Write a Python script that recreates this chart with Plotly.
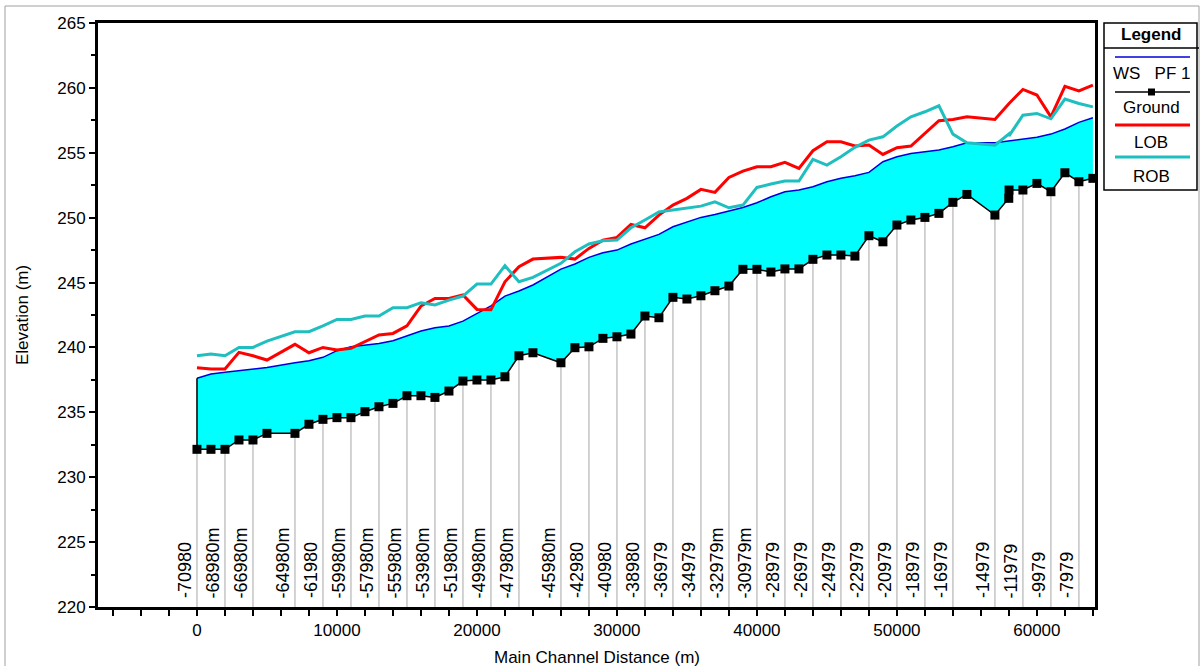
import plotly.graph_objects as go

# ---------------- data ----------------
dist = [0, 1000, 2000, 3000, 4000, 5000, 7000, 8000, 9000, 10000, 11000, 12000, 13000, 14000,
        15000, 16000, 17000, 18000, 19000, 20000, 21000, 22000, 23000, 24000, 26000, 27000, 28000,
        29000, 30000, 31000, 32000, 33000, 34000, 35000, 36000, 37000, 38000, 39000, 40000, 41000,
        42000, 43000, 44000, 45000, 46000, 47000, 48000, 49000, 50000, 51000, 52000, 53000, 54000,
        55000, 57000, 57990, 58010, 59000, 60000, 61000, 62000, 63000, 64000]

ground = [232.15, 232.15, 232.15, 232.87, 232.87, 233.38, 233.38, 234.08, 234.46, 234.59, 234.59,
          235.05, 235.43, 235.69, 236.28, 236.28, 236.15, 236.64, 237.41, 237.49, 237.49, 237.74,
          239.36, 239.59, 238.82, 239.98, 240.05, 240.70, 240.82, 241.03, 242.42, 242.29, 243.86,
          243.73, 243.98, 244.37, 244.73, 246.02, 246.02, 245.81, 246.05, 246.05, 246.79, 247.12,
          247.12, 247.04, 248.61, 248.14, 249.43, 249.82, 250.02, 250.33, 251.18, 251.79, 250.20,
          251.49, 252.13, 252.13, 252.64, 252.00, 253.46, 252.77, 253.03]

ws = [237.62, 237.95, 238.08, 238.20, 238.33, 238.46, 238.82, 238.98, 239.24, 239.75, 240.05,
      240.18, 240.31, 240.52, 240.88, 241.26, 241.52, 241.65, 242.03, 242.63, 243.20, 243.96,
      244.35, 244.81, 246.04, 246.43, 246.94, 247.30, 247.50, 247.97, 248.35, 248.71, 249.30,
      249.68, 250.02, 250.25, 250.51, 250.79, 251.15, 251.61, 252.00, 252.13, 252.38, 252.77,
      253.03, 253.23, 253.49, 254.31, 254.69, 254.95, 255.08, 255.21, 255.46, 255.77, 255.77,
      255.92, 255.92, 256.06, 256.19, 256.44, 256.83, 257.34, 257.70]

lob = [238.44, 238.34, 238.34, 239.62, 239.36, 239.03, 240.24, 239.59, 240.00, 239.80, 239.93,
       240.44, 240.96, 241.08, 241.67, 243.19, 243.78, 243.78, 244.04, 242.93, 242.90, 245.06,
       246.22, 246.81, 246.94, 246.81, 247.63, 248.27, 248.48, 249.48, 249.22, 250.20, 250.97,
       251.49, 252.18, 251.95, 253.10, 253.59, 253.92, 253.92, 254.26, 253.80, 255.16, 255.85,
       255.85, 255.52, 255.59, 254.87, 255.39, 255.52, 256.49, 257.47, 257.57, 257.77, 257.57,
       258.75, 258.80, 259.88, 259.45, 257.77, 260.12, 259.77, 260.21]

rob = [239.36, 239.49, 239.36, 240.00, 240.00, 240.49, 241.21, 241.21, 241.67, 242.16, 242.16,
       242.42, 242.42, 243.06, 243.06, 243.45, 243.27, 243.65, 243.96, 244.88, 244.88, 246.30,
       245.06, 245.40, 246.48, 247.37, 247.97, 248.22, 248.27, 249.22, 249.82, 250.45, 250.59,
       250.72, 250.89, 251.22, 250.76, 250.97, 252.33, 252.59, 252.82, 252.82, 254.49, 254.05,
       254.69, 255.42, 255.98, 256.23, 257.06, 257.77, 258.16, 258.62, 256.44, 255.77, 255.59,
       256.44, 256.30, 257.90, 258.03, 257.62, 259.14, 258.80, 258.54]

label_dist = [0, 2000, 4000, 7000, 9000, 11000, 13000, 15000, 17000, 19000, 21000, 23000, 26000,
              28000, 30000, 32000, 34000, 36000, 38000, 40000, 42000, 44000, 46000, 48000, 50000,
              52000, 54000, 57000, 59000, 61000, 63000]
label_text = ["-70980", "-68980m", "-66980m", "-64980m", "-61980", "-59980m", "-57980m",
              "-55980m", "-53980m", "-51980m", "-49980m", "-47980m", "-45980m", "-42980",
              "-40980", "-38980", "-36979", "-34979", "-32979m", "-30979m", "-28979", "-26979",
              "-24979", "-22979", "-20979", "-18979", "-16979", "-14979", "-11979", "-9979",
              "-7979"]

x_range = [-7070, 64150]
y_range = [220, 265]

FONT = "Arial, Liberation Sans, sans-serif"
FS = 17

fig = go.Figure()

# fill base (ground, invisible)
fig.add_trace(go.Scatter(x=dist, y=ground, mode="lines", line=dict(width=0, color="black"),
                         hoverinfo="skip", showlegend=False))
# water surface with fill down to ground
fig.add_trace(go.Scatter(x=dist, y=ws, mode="lines", fill="tonexty", fillcolor="#00ffff",
                         line=dict(color="#0000dd", width=1.5), name="WS PF 1", showlegend=False))

# gray station lines
gmap = dict(zip(dist, ground))
gx, gy = [], []
for d in label_dist:
    gx += [d, d, None]
    gy += [gmap[d], y_range[0], None]
fig.add_trace(go.Scatter(x=gx, y=gy, mode="lines", line=dict(color="#c4c4c4", width=1.5),
                         hoverinfo="skip", showlegend=False))

# left edge of water polygon
fig.add_trace(go.Scatter(x=[dist[0], dist[0]], y=[ground[0], ws[0]], mode="lines",
                         line=dict(color="black", width=1.5), hoverinfo="skip", showlegend=False))

fig.add_trace(go.Scatter(x=dist, y=lob, mode="lines", line=dict(color="#ff0000", width=3),
                         name="LOB", showlegend=False))
fig.add_trace(go.Scatter(x=dist, y=rob, mode="lines", line=dict(color="#1fbfbf", width=3),
                         name="ROB", showlegend=False))
fig.add_trace(go.Scatter(x=dist, y=ground, mode="lines+markers",
                         line=dict(color="black", width=1.5),
                         marker=dict(symbol="square", size=9, color="black"),
                         name="Ground", showlegend=False, cliponaxis=False))

# station labels
for d, t in zip(label_dist, label_text):
    fig.add_annotation(x=d, y=y_range[0], xref="x", yref="y", text=t, textangle=-90,
                       showarrow=False, xanchor="right", yanchor="bottom", xshift=0, yshift=7,
                       font=dict(family=FONT, size=18, color="black"))

# plot geometry in px (for decorative legend / titles)
L, R, T, B = 98, 1095, 23, 607
def px(xp):
    return (xp - L) / (R - L)
def py(yp):
    return (B - yp) / (B - T)

# axis titles
fig.add_annotation(x=px(22), y=0.5, xref="paper", yref="paper", text="Elevation (m)",
                   textangle=-90, showarrow=False, xanchor="center", yanchor="middle",
                   font=dict(family=FONT, size=FS, color="black"))
fig.add_annotation(x=0.5, y=py(657), xref="paper", yref="paper", text="Main Channel Distance (m)",
                   showarrow=False, xanchor="center", yanchor="middle",
                   font=dict(family=FONT, size=FS, color="black"))

shapes = []
# outer border
shapes.append(dict(type="rect", xref="paper", yref="paper", x0=px(5), x1=px(1199),
                   y0=py(690), y1=py(6), line=dict(color="#a0a0a0", width=1)))
# legend box
shapes.append(dict(type="rect", xref="paper", yref="paper", x0=px(1104), x1=px(1197),
                   y0=py(190), y1=py(23), line=dict(color="black", width=1.5),
                   fillcolor="white"))
shapes.append(dict(type="line", xref="paper", yref="paper", x0=px(1104), x1=px(1199),
                   y0=py(48), y1=py(48), line=dict(color="black", width=1.5)))
leg_items = [("#0000dd", 1.5, 57, "WS\u00a0\u00a0\u00a0PF 1", 73),
             ("black", 1.5, 92, "Ground", 108),
             ("#ff0000", 3, 125, "LOB", 142),
             ("#1fbfbf", 3, 157, "ROB", 176)]
for col, w, ly, txt, ty in leg_items:
    shapes.append(dict(type="line", xref="paper", yref="paper", x0=px(1115), x1=px(1190),
                       y0=py(ly), y1=py(ly), line=dict(color=col, width=w)))
    fig.add_annotation(x=px(1151), y=py(ty), xref="paper", yref="paper", text=txt,
                       showarrow=False, xanchor="center", yanchor="middle",
                       font=dict(family=FONT, size=FS, color="black"))
shapes.append(dict(type="rect", xref="paper", yref="paper", x0=px(1148), x1=px(1155),
                   y0=py(95.5), y1=py(88.5), line=dict(color="black", width=0),
                   fillcolor="black"))
fig.add_annotation(x=px(1151), y=py(35), xref="paper", yref="paper", text="<b>Legend</b>",
                   showarrow=False, xanchor="center", yanchor="middle",
                   font=dict(family=FONT, size=FS, color="black"))

fig.update_layout(
    width=1204, height=666,
    margin=dict(l=L, r=1204 - R, t=T, b=666 - B),
    paper_bgcolor="white", plot_bgcolor="white",
    showlegend=False,
    shapes=shapes,
    font=dict(family=FONT, size=FS, color="black"),
)
fig.update_xaxes(range=x_range, showgrid=False, zeroline=False, showline=True, linewidth=3,
                 linecolor="black", mirror=True, ticks="outside", ticklen=6, tickwidth=1.5,
                 tickcolor="black", dtick=10000, tick0=0, tickformat="d",
                 minor=dict(dtick=2000, ticks="outside", ticklen=6, tickwidth=1.5,
                            tickcolor="black", showgrid=False),
                 tickfont=dict(family=FONT, size=FS, color="black"))
fig.update_yaxes(range=y_range, showgrid=False, zeroline=False, showline=True, linewidth=3,
                 linecolor="black", mirror=True, ticks="outside", ticklen=6, tickwidth=1.5,
                 tickcolor="black", dtick=5, tick0=220,
                 minor=dict(dtick=2.5, ticks="outside", ticklen=4, tickwidth=1.5,
                            tickcolor="black", showgrid=False),
                 tickfont=dict(family=FONT, size=FS, color="black"))

fig.write_html("out.html", config={"displayModeBar": False},
               post_script="document.body.style.margin='0';document.body.style.overflow='hidden';")
